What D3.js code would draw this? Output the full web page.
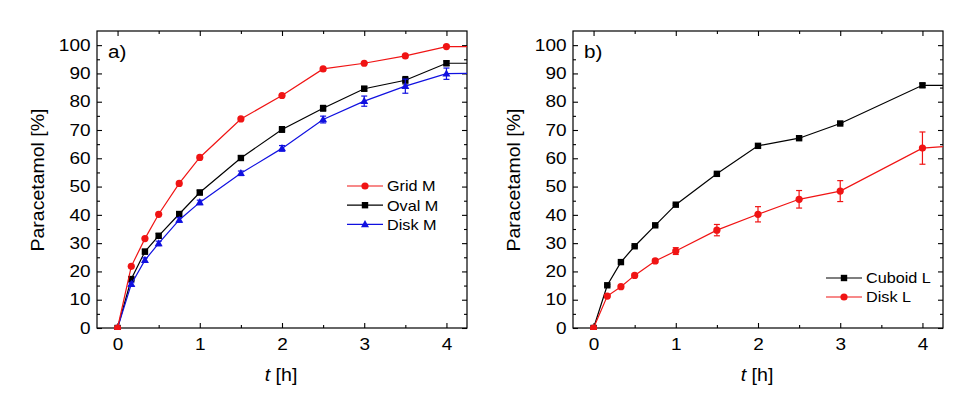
<!DOCTYPE html>
<html><head><meta charset="utf-8">
<script src="https://cdn.jsdelivr.net/npm/d3@7"></script>
<style>
html,body{margin:0;padding:0;background:#fff;}
svg text{font-family:"Liberation Sans",Arial,sans-serif;fill:#000;}
</style></head>
<body><svg id="c" width="980" height="398"></svg>
<script>
// ---------- data ----------
const timesA = [0, 0.167, 0.333, 0.5, 0.75, 1, 1.5, 2, 2.5, 3, 3.5, 4];
const gridM  = [0, 21.8, 31.6, 40.2, 51.1, 60.3, 73.9, 82.2, 91.6, 93.6, 96.2, 99.5];
const gridMErr = [0, 0, 0, 0, 0, 0, 0, 0, 0, 0, 0, 0];
const ovalM  = [0, 17.3, 27.0, 32.6, 40.3, 47.9, 60.1, 70.2, 77.7, 84.6, 87.6, 93.6];
const ovalMErr = [0, 0.5, 0.8, 0.8, 0.8, 0.8, 0.8, 1.0, 1.0, 0.8, 1.3, 0.8];
const diskM  = [0, 15.5, 24.0, 29.9, 38.2, 44.4, 54.7, 63.5, 73.7, 80.2, 85.5, 89.9];
const diskMErr = [0, 0.5, 0.8, 0.8, 0.8, 0.8, 0.8, 1.0, 1.2, 1.8, 2.5, 2.0];
const tailA = {grid: 99.5, oval: 93.6, disk: 90.0};

const timesB = [0, 0.167, 0.333, 0.5, 0.75, 1, 1.5, 2, 2.5, 3, 4];
const cuboidL = [0, 15.1, 23.3, 28.9, 36.3, 43.6, 54.5, 64.4, 67.1, 72.3, 85.8];
const cuboidLErr = [0, 0.3, 0.3, 0.3, 0.3, 0.3, 0.3, 0.3, 0.3, 0.3, 0.7];
const diskL = [0, 11.3, 14.6, 18.6, 23.7, 27.2, 34.6, 40.2, 45.5, 48.4, 63.6];
const diskLErr = [0, 0.3, 0.4, 0.5, 0.6, 1.2, 2.0, 2.7, 3.1, 3.7, 5.7];
const tailB = {cuboid: 85.8, disk: 64.1};

const tailTime = 4.25;
const xTicks = [0, 1, 2, 3, 4];
const yTicks = [0, 10, 20, 30, 40, 50, 60, 70, 80, 90, 100];
const xDomain = [-0.25, 4.25];
const yDomain = [0, 105];

const RED = "#f01414", BLACK = "#000000", BLUE = "#1010e0";

const svg = d3.select("#c");

// widen glyphs horizontally (reference text is slightly wide)
function widen(sel, k) {
  sel.each(function () {
    const len = this.getComputedTextLength();
    if (len > 0) d3.select(this).attr("textLength", len * k).attr("lengthAdjust", "spacingAndGlyphs");
  });
}

function panel(opts) {
  const {left, right, top, bottom, label, series, legend} = opts;
  const x = d3.scaleLinear().domain(xDomain).range([left, right]);
  const y = d3.scaleLinear().domain(yDomain).range([bottom, top]);
  const g = svg.append("g");
  const clipId = "clip" + label.replace(/\W/g, "");
  svg.append("clipPath").attr("id", clipId).append("rect")
    .attr("x", left).attr("y", top - 10).attr("width", right - left).attr("height", bottom - top + 12);

  const xMinor = d3.range(0, 4.01, 0.5).filter(v => !xTicks.includes(v));
  const yMinor = d3.range(5, 101, 10);

  const axB = d3.axisBottom(x).tickValues(xTicks).tickSize(-5).tickPadding(10.5).tickFormat(d3.format("d"));
  const axT = d3.axisTop(x).tickValues(xTicks).tickSize(-5).tickFormat("");
  const axL = d3.axisLeft(y).tickValues(yTicks).tickSize(-5).tickPadding(6.5).tickFormat(d3.format("d"));
  const axR = d3.axisRight(y).tickValues(yTicks).tickSize(-5).tickFormat("");
  const axBm = d3.axisBottom(x).tickValues(xMinor).tickSize(-3).tickFormat("");
  const axTm = d3.axisTop(x).tickValues(xMinor).tickSize(-3).tickFormat("");
  const axLm = d3.axisLeft(y).tickValues(yMinor).tickSize(-3).tickFormat("");
  const axRm = d3.axisRight(y).tickValues(yMinor).tickSize(-3).tickFormat("");

  const add = (ax, tr) => {
    const a = g.append("g").attr("transform", tr).call(ax);
    a.select(".domain").remove();
    a.selectAll("line").attr("stroke", "#000").attr("stroke-width", 1.1);
    a.selectAll("text").style("font-size", "16.5px").attr("fill", "#000");
    widen(a.selectAll("text"), 1.15);
    return a;
  };
  add(axB, `translate(0,${bottom})`);
  add(axT, `translate(0,${top})`);
  add(axL, `translate(${left},0)`);
  add(axR, `translate(${right},0)`);
  add(axBm, `translate(0,${bottom})`);
  add(axTm, `translate(0,${top})`);
  add(axLm, `translate(${left},0)`);
  add(axRm, `translate(${right},0)`);

  g.append("rect").attr("x", left).attr("y", top).attr("width", right - left).attr("height", bottom - top)
    .attr("fill", "none").attr("stroke", "#000").attr("stroke-width", 1.2);

  // axis titles
  const xt = g.append("text").attr("x", (left + right) / 2 - 1).attr("y", bottom + 53).attr("text-anchor", "middle")
    .style("font-size", "17.5px")
    .html('<tspan font-style="italic">t</tspan> [h]');
  widen(xt, 1.12);
  g.append("text").attr("transform", `translate(${left - 53},${(top + bottom) / 2 + 0.5}) rotate(-90)`)
    .attr("text-anchor", "middle").style("font-size", "18px")
    .attr("textLength", 143).attr("lengthAdjust", "spacingAndGlyphs").text("Paracetamol [%]");
  const lb = g.append("text").attr("x", left + 11).attr("y", top + 27).style("font-size", "17.5px").text(label);
  widen(lb, 1.18);

  // series
  const plot = g.append("g").attr("clip-path", `url(#${clipId})`);
  series.forEach(s => {
    const pts = s.t.map((t, i) => ({t, v: s.v[i], e: s.e[i]}));
    const linePts = pts.concat([{t: tailTime, v: s.tail}]);
    plot.append("path").datum(linePts)
      .attr("d", d3.line().x(d => x(d.t)).y(d => y(d.v)))
      .attr("fill", "none").attr("stroke", s.color).attr("stroke-width", 1.2);
    pts.filter(d => d.e > 0).forEach(d => {
      const eg = plot.append("g").attr("stroke", s.color).attr("stroke-width", 1.2);
      eg.append("line").attr("x1", x(d.t)).attr("x2", x(d.t)).attr("y1", y(d.v - d.e)).attr("y2", y(d.v + d.e));
      [d.v - d.e, d.v + d.e].forEach(v => eg.append("line")
        .attr("x1", x(d.t) - 3).attr("x2", x(d.t) + 3).attr("y1", y(v)).attr("y2", y(v)));
    });
    pts.forEach(d => drawMarker(plot, s.shape, x(d.t), y(d.v), s.color));
  });

  // legend
  legend.items.forEach((it, i) => {
    const yy = legend.y + i * legend.dy;
    g.append("line").attr("x1", legend.x).attr("x2", legend.x + 36).attr("y1", yy).attr("y2", yy)
      .attr("stroke", it.color).attr("stroke-width", 1.2);
    drawMarker(g, it.shape, legend.x + 18, yy, it.color);
    const t = g.append("text").attr("x", legend.x + 40).attr("y", yy).attr("dy", "0.36em")
      .style("font-size", "15px").text(it.name);
    widen(t, 1.08);
  });
}

function drawMarker(sel, shape, cx, cy, color) {
  if (shape === "circle") {
    sel.append("circle").attr("cx", cx).attr("cy", cy).attr("r", 3.6).attr("fill", color);
  } else if (shape === "square") {
    sel.append("rect").attr("x", cx - 3.2).attr("y", cy - 3.2).attr("width", 6.4).attr("height", 6.4).attr("fill", color);
  } else {
    sel.append("path").attr("d", `M${cx},${cy - 4.3}L${cx + 4},${cy + 2.8}L${cx - 4},${cy + 2.8}Z`).attr("fill", color);
  }
}

panel({
  left: 97, right: 467, top: 31, bottom: 328, label: "a)",
  series: [
    {t: timesA, v: ovalM, e: ovalMErr, tail: tailA.oval, color: BLACK, shape: "square"},
    {t: timesA, v: diskM, e: diskMErr, tail: tailA.disk, color: BLUE, shape: "triangle"},
    {t: timesA, v: gridM, e: gridMErr, tail: tailA.grid, color: RED, shape: "circle"}
  ],
  legend: {x: 347, y: 186, dy: 19.2, items: [
    {name: "Grid M", color: RED, shape: "circle"},
    {name: "Oval M", color: BLACK, shape: "square"},
    {name: "Disk M", color: BLUE, shape: "triangle"}
  ]}
});

panel({
  left: 573, right: 943, top: 31, bottom: 328, label: "b)",
  series: [
    {t: timesB, v: cuboidL, e: cuboidLErr, tail: tailB.cuboid, color: BLACK, shape: "square"},
    {t: timesB, v: diskL, e: diskLErr, tail: tailB.disk, color: RED, shape: "circle"}
  ],
  legend: {x: 826, y: 278, dy: 19, items: [
    {name: "Cuboid L", color: BLACK, shape: "square"},
    {name: "Disk L", color: RED, shape: "circle"}
  ]}
});
</script></body></html>
